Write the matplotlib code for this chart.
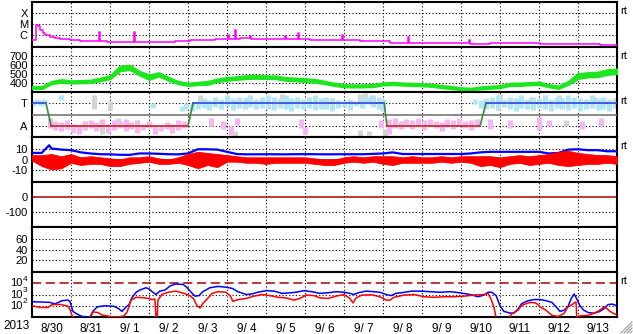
import numpy as np
import matplotlib
matplotlib.use('Agg')
import matplotlib.pyplot as plt
from matplotlib.lines import Line2D
from matplotlib.transforms import offset_copy

plt.rcParams['font.family'] = ['Liberation Sans', 'DejaVu Sans']

# time axis: days since 2013-08-30 00:00
DAY_LABELS = ['8/30', '8/31', '9/ 1', '9/ 2', '9/ 3', '9/ 4', '9/ 5', '9/ 6',
              '9/ 7', '9/ 8', '9/ 9', '9/10', '9/11', '9/12', '9/13']
YEAR = '2013'
FLUX_EXPONENTS = [4, 3, 2]

# GOES x-ray flux (W/m2)
XRAY = [(0.0, 3.5e-7), (0.08, 3.5e-7), (0.10, 8e-6), (0.15, 6e-6), (0.20, 2.9e-6),
        (0.28, 1.6e-6), (0.33, 1.0e-6), (0.46, 6.6e-7), (0.59, 5.3e-7), (0.72, 4.5e-7),
        (0.97, 3.5e-7), (1.23, 2.9e-7), (1.49, 2.9e-7), (1.69, 2.6e-7), (1.72, 1.9e-6),
        (1.74, 2.6e-7), (1.92, 2.3e-7), (2.26, 2.2e-7), (2.60, 2.1e-7), (2.62, 1.9e-6),
        (2.64, 2.1e-7), (3.03, 2.2e-7), (3.41, 2.2e-7), (3.67, 2.9e-7), (4.05, 3.2e-7),
        (4.44, 3.5e-7), (4.69, 4.0e-7), (4.95, 4.5e-7), (5.03, 1.0e-6), (5.05, 4.2e-7),
        (5.13, 4.0e-7), (5.21, 2.9e-6), (5.23, 4.5e-7), (5.33, 5.0e-7), (5.59, 8e-7),
        (5.61, 4.3e-7), (6.10, 4.3e-7), (6.49, 9e-7), (6.51, 4.0e-7), (6.62, 4.0e-7),
        (6.82, 1.5e-6), (6.85, 4.3e-7), (7.13, 3.5e-7), (7.64, 3.5e-7), (7.95, 1.0e-6),
        (7.97, 3.2e-7), (8.41, 2.9e-7), (8.92, 2.9e-7), (9.18, 2.0e-7), (9.64, 6.6e-7),
        (9.67, 1.9e-7), (9.95, 1.7e-7), (10.72, 1.7e-7), (11.21, 3.5e-7), (11.23, 1.6e-7),
        (11.74, 1.7e-7), (12.51, 1.7e-7), (13.03, 1.5e-7), (13.54, 1.5e-7), (14.05, 1.4e-7),
        (14.56, 1.2e-7), (15.0, 1.0e-7)]

# solar wind speed (km/s): time, low, high
SPEED = [(0.00, 340, 362), (0.25, 338, 360), (0.50, 392, 418), (0.75, 408, 438),
         (1.00, 400, 425), (1.25, 402, 428), (1.50, 405, 432), (1.75, 425, 455),
         (2.00, 448, 480), (2.25, 535, 585), (2.50, 550, 598), (2.75, 490, 530),
         (3.00, 440, 490), (3.25, 478, 515), (3.50, 430, 462), (3.75, 392, 418),
         (4.00, 372, 398), (4.25, 382, 408), (4.50, 385, 418), (4.75, 415, 445),
         (5.00, 430, 462), (5.25, 440, 470), (5.50, 450, 482), (5.75, 452, 485),
         (6.00, 450, 480), (6.25, 448, 478), (6.50, 430, 460), (6.75, 425, 455),
         (7.00, 415, 448), (7.25, 410, 440), (7.50, 392, 420), (7.75, 372, 398),
         (8.00, 358, 382), (8.25, 355, 380), (8.50, 356, 380), (8.75, 360, 385),
         (9.00, 378, 402), (9.25, 382, 408), (9.50, 376, 400), (9.75, 372, 398),
         (10.00, 368, 392), (10.25, 362, 388), (10.50, 348, 372), (10.75, 338, 362),
         (11.00, 325, 348), (11.25, 320, 342), (11.50, 334, 358), (11.75, 340, 365),
         (12.00, 348, 372), (12.25, 372, 398), (12.50, 372, 400), (12.75, 380, 405),
         (13.00, 382, 410), (13.25, 358, 382), (13.50, 340, 365), (13.75, 385, 418),
         (14.00, 450, 505), (14.25, 468, 515), (14.50, 470, 520), (14.75, 495, 548),
         (15.00, 505, 555)]

# IMF sector: +1 toward, -1 away
SECTOR = [(0.0, 1), (0.36, 1), (0.49, -1), (4.00, -1), (4.13, 1), (9.03, 1),
          (9.10, -1), (11.49, -1), (11.64, 1), (15.0, 1)]

# phi angle spread (time, low, high)
PHI_TOWARD = [(0.03, 0.8, 1.3), (0.12, 0.9, 1.4), (0.22, 0.75, 1.3), (0.32, 0.85, 1.35),
              (0.75, 1.3, 1.7), (3.10, 0.6, 1.0), (3.85, 0.3, 0.8), (3.95, 0.5, 1.0),
              (4.10, 0.3, 1.0), (4.25, 0.5, 1.2), (4.40, 0.6, 1.5), (4.55, 0.4, 1.3),
              (4.70, 0.7, 1.6), (4.85, 0.5, 1.4), (5.00, 0.8, 1.7), (5.15, 0.4, 1.5),
              (5.30, 0.6, 1.6), (5.45, 0.5, 1.5), (5.60, 0.7, 1.7), (5.75, 0.5, 1.4),
              (5.90, 0.6, 1.6), (6.05, 0.5, 1.7), (6.20, 0.4, 1.6), (6.35, 0.6, 1.5),
              (6.50, 0.5, 1.7), (6.65, 0.3, 1.5), (6.80, 0.6, 1.6), (6.95, 0.5, 1.4),
              (7.10, 0.6, 1.6), (7.25, 0.4, 1.7), (7.40, 0.5, 1.5), (7.55, 0.5, 1.6),
              (7.70, 0.3, 1.5), (7.85, 0.6, 1.3), (8.00, 0.7, 1.2), (8.15, 0.4, 1.4),
              (8.30, 0.8, 1.2), (8.45, 0.6, 1.5), (8.60, 0.9, 1.6), (8.75, 0.7, 1.7),
              (8.90, 0.5, 1.6), (9.00, 0.3, 1.4), (11.35, 0.9, 1.4), (11.50, 0.6, 1.3),
              (11.65, 0.5, 1.5), (11.80, 0.6, 1.6), (11.95, 0.4, 1.7), (12.10, 0.7, 1.4),
              (12.25, 0.5, 1.6), (12.40, 0.3, 1.5), (12.55, 0.6, 1.7), (12.70, 0.5, 1.4),
              (12.85, 0.4, 1.6), (13.00, 0.6, 1.5), (13.15, 0.5, 1.7), (13.30, 0.3, 1.4),
              (13.45, 0.6, 1.6), (13.60, 0.5, 1.5), (13.75, 0.4, 1.7), (13.90, 0.6, 1.6),
              (14.05, 0.3, 1.5), (14.20, 0.5, 1.4), (14.35, 0.6, 1.7), (14.50, 0.4, 1.5),
              (14.65, 0.5, 1.6), (14.80, 0.3, 1.4), (14.95, 0.6, 1.5)]
PHI_AWAY = [(0.45, -1.2, -0.3), (0.60, -1.4, -0.6), (0.75, -1.5, -0.7), (0.90, -1.3, -0.5),
            (1.05, -1.6, -0.8), (1.20, -1.7, -0.9), (1.35, -1.4, -0.6), (1.50, -1.2, -0.5),
            (1.65, -1.5, -0.7), (1.80, -1.3, -0.4), (1.95, -1.6, -0.8), (2.10, -1.4, -0.5),
            (2.25, -1.2, -0.6), (2.40, -1.5, -0.4), (2.55, -1.3, -0.7), (2.70, -1.6, -0.5),
            (2.85, -1.4, -0.8), (3.00, -1.2, -0.6), (3.15, -1.7, -1.0), (3.30, -1.5, -0.9),
            (3.45, -1.3, -0.7), (3.60, -1.6, -0.8), (3.75, -1.4, -0.5), (3.90, -1.2, -0.6),
            (4.60, -1.0, -0.3), (4.90, -1.3, -0.6), (5.10, -1.8, -1.0), (5.25, -0.9, -0.3),
            (6.90, -1.2, -0.4), (7.00, -1.7, -1.1), (8.95, -1.2, -0.5),
            (9.15, -1.7, -0.4), (9.30, -1.2, -0.3), (9.45, -1.3, -0.6), (9.60, -1.0, -0.4),
            (9.75, -1.3, -0.5), (9.90, -1.1, -0.3), (10.05, -1.4, -0.5), (10.20, -1.0, -0.4),
            (10.35, -1.2, -0.6), (10.50, -1.5, -0.7), (10.65, -1.1, -0.4), (10.80, -1.3, -0.5),
            (10.95, -1.0, -0.3), (11.10, -1.2, -0.6), (11.25, -1.4, -0.5), (11.40, -1.1, -0.4),
            (11.75, -1.3, -0.4), (12.25, -1.2, -0.5), (13.00, -1.4, -0.2), (13.25, -1.0, -0.5),
            (14.10, -1.3, -0.6), (14.60, -1.0, -0.3)]
PHI_OTHER = [(1.60, 0.5, 1.7), (1.80, -1.7, -1.2), (2.00, 0.4, 1.2), (2.20, -1.0, -0.3),
             (4.30, 1.2, 1.7), (5.50, 1.0, 1.6), (5.20, -1.9, -1.5), (6.40, 1.3, 1.8),
             (7.70, 0.9, 1.5), (8.40, 1.0, 1.8), (8.55, 1.3, 1.9), (8.70, 0.9, 1.7),
             (8.40, -1.9, -1.4), (8.65, -1.8, -1.5), (12.00, 1.1, 1.8), (12.80, 0.9, 1.6),
             (13.50, 1.2, 1.7), (14.40, 1.0, 1.6), (13.70, -1.0, -0.5), (9.05, -1.9, -1.3)]

# IMF Bt (nT)
BT = [(0.0, 6), (0.25, 6), (0.44, 13), (0.5, 10), (0.75, 9), (1.0, 8.5), (1.25, 6.5),
      (1.5, 5.5), (1.75, 4.8), (2.0, 4.7), (2.25, 4.3), (2.5, 4.2), (2.75, 5.5),
      (3.0, 5.5), (3.25, 5.2), (3.5, 4.8), (3.75, 4.7), (4.0, 5.5), (4.25, 9.3),
      (4.5, 9.3), (4.75, 9.0), (5.0, 7.0), (5.25, 5.0), (5.5, 4.7), (6.0, 4.8),
      (6.5, 4.7), (7.0, 4.9), (7.5, 4.7), (8.0, 4.8), (8.5, 4.8), (9.0, 5.5),
      (9.25, 6.5), (9.5, 5.0), (10.0, 5.0), (10.5, 5.0), (11.0, 5.0), (11.25, 5.5),
      (11.5, 6.5), (11.75, 7.0), (12.5, 7.0), (13.0, 7.0), (13.25, 5.5), (13.5, 6.0),
      (13.75, 9.0), (14.0, 9.3), (14.25, 8.5), (14.5, 8.5), (14.75, 7.5), (15.0, 7.5)]

# IMF Bz spread (time, low, high) nT
BZ = [(0.00, -1, 4), (0.25, -6, 4), (0.50, -9, 5), (0.75, -8, 3), (1.00, -3, 5),
      (1.25, -5, 2), (1.50, -4, 3), (1.75, -4, 2), (2.00, -6, 1), (2.25, -6, 0),
      (2.50, -4, 2), (2.75, -3, 2), (3.00, -2, 3), (3.25, -4, 1), (3.50, -4, 0),
      (3.75, -3, 2), (4.00, -5, 5), (4.25, -8, 7), (4.50, -5, 6), (4.75, -7, 5),
      (5.00, -2, 4), (5.25, -2, 3), (5.50, -3, 2), (5.75, -3, 2), (6.00, -4, 2),
      (6.25, -3, 2), (6.50, -3, 2), (6.75, -3, 2), (7.00, -3, 2), (7.25, -4, 1),
      (7.50, -5, 0), (7.75, -5, 0), (8.00, -3, 2), (8.25, -2, 3), (8.50, -3, 2),
      (8.75, -2, 3), (9.00, -4, 3), (9.25, -5, 3), (9.50, -3, 2), (9.75, -3, 3),
      (10.00, -3, 2), (10.25, -3, 2), (10.50, -2, 3), (10.75, -3, 2), (11.00, -2, 3),
      (11.25, -3, 3), (11.50, -6, 3), (11.75, -5, 3), (12.00, -7, 2), (12.25, -4, 3),
      (12.50, -3, 4), (12.75, -5, 3), (13.00, -4, 4), (13.25, -3, 5), (13.50, -5, 7),
      (13.75, -6, 8), (14.00, -5, 6), (14.25, -4, 5), (14.50, -4, 4), (14.75, -3, 4),
      (15.00, -4, 3)]

# particle flux, log10
ELECTRONS = [(0.0, 2.36), (0.46, 2.3), (0.59, 2.16), (0.77, 2.45), (0.92, 2.5), (0.97, 2.4),
             (1.05, 1.5), (1.15, 1.27), (1.28, 1.05), (1.49, 1.0), (1.56, 1.5), (1.67, 1.9),
             (1.87, 2.0), (2.10, 1.95), (2.21, 1.77), (2.31, 1.5), (2.41, 1.9), (2.49, 2.1),
             (2.56, 2.7), (2.67, 3.2), (2.77, 3.4), (2.92, 3.6), (3.00, 3.5), (3.08, 3.25),
             (3.18, 3.0), (3.28, 3.3), (3.41, 3.4), (3.54, 3.75), (3.67, 3.93), (3.87, 3.9),
             (3.97, 3.64), (4.08, 3.2), (4.18, 2.85), (4.28, 2.9), (4.38, 3.25), (4.56, 3.6),
             (4.77, 3.72), (4.97, 3.65), (5.13, 3.55), (5.28, 3.25), (5.49, 3.0), (5.64, 3.05),
             (5.79, 3.2), (6.00, 3.34), (6.21, 3.3), (6.41, 3.1), (6.62, 3.15), (6.77, 3.2),
             (6.97, 3.34), (7.18, 3.25), (7.38, 3.1), (7.59, 3.15), (7.79, 3.25), (8.00, 3.2),
             (8.15, 3.1), (8.26, 3.0), (8.36, 3.15), (8.56, 3.3), (8.77, 3.25), (8.92, 3.2),
             (9.08, 3.0), (9.21, 2.9), (9.33, 3.1), (9.56, 3.2), (9.74, 3.3), (9.95, 3.3),
             (10.21, 3.25), (10.46, 3.2), (10.72, 3.25), (10.97, 3.15), (11.23, 3.0),
             (11.44, 2.8), (11.59, 2.95), (11.69, 3.2), (11.79, 3.2), (11.90, 2.9),
             (12.00, 2.0), (12.10, 1.5), (12.26, 1.35), (12.36, 1.35), (12.46, 1.7),
             (12.56, 2.2), (12.72, 2.45), (12.87, 2.55), (13.03, 2.55), (13.18, 2.45),
             (13.33, 2.3), (13.44, 1.9), (13.54, 1.5), (13.64, 1.6), (13.74, 1.9),
             (13.82, 2.6), (13.90, 3.05), (13.97, 2.6), (14.05, 2.0), (14.15, 1.6),
             (14.26, 1.4), (14.41, 1.33), (14.56, 1.5), (14.67, 1.75), (14.77, 2.1),
             (14.87, 2.15), (15.0, 2.0)]
PROTONS = [(0.0, 2.0), (0.21, 1.85), (0.41, 1.85), (0.51, 2.1), (0.72, 2.12), (0.82, 2.05),
           (0.92, 1.96), (0.97, 1.7), (1.03, 1.1), (1.10, 0.9), (1.49, 0.9), (1.56, 1.45),
           (1.69, 1.4), (1.79, 1.18), (2.00, 1.05), (2.21, 1.0), (2.36, 1.1), (2.44, 1.45),
           (2.54, 2.5), (2.67, 2.75), (2.82, 2.72), (2.97, 2.66), (3.08, 2.55), (3.15, 2.6),
           (3.18, 0.9), (3.21, 0.9), (3.23, 2.5), (3.33, 3.0), (3.49, 3.2), (3.69, 3.3),
           (3.90, 3.1), (4.05, 2.9), (4.15, 2.6), (4.23, 2.0), (4.31, 1.8), (4.38, 2.2),
           (4.49, 2.6), (4.62, 3.1), (4.77, 3.25), (4.97, 3.2), (5.08, 2.9), (5.15, 2.4),
           (5.28, 2.55), (5.49, 2.65), (5.69, 2.85), (5.90, 3.0), (6.10, 2.9), (6.31, 2.75),
           (6.51, 2.7), (6.72, 2.5), (6.87, 2.65), (7.03, 2.95), (7.23, 2.9), (7.38, 2.7),
           (7.59, 2.65), (7.79, 2.85), (8.00, 3.0), (8.15, 2.65), (8.23, 2.25), (8.31, 2.7),
           (8.46, 2.95), (8.72, 2.97), (8.92, 2.8), (9.08, 2.5), (9.18, 2.5), (9.28, 2.75),
           (9.54, 2.95), (9.79, 3.0), (10.05, 2.8), (10.31, 2.75), (10.56, 2.8), (10.82, 2.8),
           (11.08, 2.85), (11.33, 2.95), (11.59, 3.0), (11.69, 3.1), (11.77, 2.6),
           (11.85, 1.8), (11.90, 0.9), (12.21, 0.9), (12.31, 1.3), (12.46, 1.6),
           (12.56, 2.05), (12.77, 2.3), (12.92, 2.25), (13.03, 1.9), (13.18, 1.6),
           (13.33, 1.15), (13.49, 1.05), (13.64, 1.3), (13.74, 1.9), (13.85, 2.1),
           (13.92, 2.3), (13.95, 2.3), (13.97, 0.9), (14.03, 1.1), (14.26, 1.15),
           (14.41, 1.33), (14.56, 1.6), (14.67, 1.9), (14.74, 1.75), (14.82, 1.5),
           (14.92, 1.3), (15.0, 1.2)]

W, H = 633, 334
LEFT, RIGHT, TOP, PH = 32, 617, 2, 45
DOT = (0, (1, 2))
DARKRED = '#b00000'
FS = 8

fig = plt.figure(figsize=(W / 100, H / 100), dpi=100)


def panel(i):
    top = TOP + PH * i
    ax = fig.add_axes([LEFT / W, 1 - (top + PH) / H, (RIGHT - LEFT) / W, PH / H])
    ax.set_xlim(0, 15)
    ax.set_xticks([])
    for s in ax.spines.values():
        s.set_linewidth(1.5)
    ax.tick_params(length=0, labelsize=FS, pad=3)
    for d in range(1, 15):
        ax.axvline(d, color='k', lw=0.8, ls=DOT, zorder=1)
    return ax


def hdots(ax, levels):
    for v in levels:
        ax.axhline(v, color='k', lw=0.8, ls=DOT, zorder=1)


def cols(rows):
    return [np.array(c) for c in zip(*rows)]


# 1: x-ray
ax = panel(0)
ax.set_yscale('log')
ax.set_ylim(10 ** -7.09, 1e-3)
ax.set_yticks([1e-4, 1e-5, 1e-6], ['X', 'M', 'C'])
ax.minorticks_off()
hdots(ax, [1e-4, 1e-5, 1e-6])
t, f = cols(XRAY)
ax.plot(t, f, color='#ff00ff', lw=1.1, drawstyle='steps-post', zorder=3)

# 2: solar wind speed
ax = panel(1)
ax.set_ylim(300, 800)
ax.set_yticks([700, 600, 500, 400], ['700', '600', '500', '400'])
hdots(ax, [700, 600, 500, 400])
t, lo, hi = cols(SPEED)
ax.fill_between(t, lo, hi, color='#1ee61e', lw=1.5, edgecolor='#1ee61e', zorder=3)

# 3: sector / phi
ax = panel(2)
ax.set_ylim(-2, 2)
ax.set_yticks([1, -1], ['T', 'A'])
hdots(ax, [1, -1])
for rows, c in [(PHI_OTHER, '#d4d4d4'), (PHI_TOWARD, '#b0e6f6'), (PHI_AWAY, '#f6b6f2')]:
    t, lo, hi = cols(rows)
    ax.vlines(t, lo, hi, color=c, lw=3.6, zorder=2)
ax.axhline(0, color='#777777', lw=1.2, zorder=3)
t, s = cols(SECTOR)
for k in range(len(t) - 1):
    if s[k] == s[k + 1]:
        c = '#3344dd' if s[k] > 0 else '#cc2222'
    else:
        c = '#3a8a3a'
    ax.plot(t[k:k + 2], s[k:k + 2], color=c, lw=1.2, zorder=4)

# 4: Bt / Bz
ax = panel(3)
ax.set_ylim(-20.5, 20.5)
ax.set_yticks([10, 0, -10], ['10', '0', '-10'])
hdots(ax, [10, -10])
ax.axhline(0, color=DARKRED, lw=1.1, zorder=2)
t, b = cols(BT)
ax.plot(t, b, color='#0000ff', lw=1.6, zorder=3)
t, lo, hi = cols(BZ)
ax.fill_between(t, lo, hi, color='#ff0000', lw=0.6, edgecolor='#ff0000', zorder=4)

# 5: empty, zero line
ax = panel(4)
ax.set_ylim(-197, 97)
ax.set_yticks([0, -100], ['0', '-100'])
hdots(ax, [-100])
ax.axhline(0, color=DARKRED, lw=1.1, zorder=2)

# 6: empty
ax = panel(5)
ax.set_ylim(-2.3, 82.9)
ax.set_yticks([60, 40, 20], ['60', '40', '20'])
hdots(ax, [60, 40, 20])

# 7: particles
ax = panel(6)
ax.set_yscale('log')
ax.set_ylim(10, 1e5)
ax.set_yticks([])
ax.minorticks_off()
hdots(ax, [1e3, 1e2])
ax.axhline(1e4, color=DARKRED, lw=1.1, dashes=(6, 3), zorder=2)
base_tr = offset_copy(ax.get_yaxis_transform(), fig=fig, x=-10, y=0, units='dots')
exp_tr = offset_copy(ax.get_yaxis_transform(), fig=fig, x=-9, y=4, units='dots')
for e in FLUX_EXPONENTS:
    ax.text(0, 10.0 ** e, '10', transform=base_tr, ha='right', va='center', fontsize=FS)
    ax.text(0, 10.0 ** e, str(e), transform=exp_tr, ha='left', va='center', fontsize=6)
t, v = cols(ELECTRONS)
ax.plot(t, 10 ** v, color='#0000ff', lw=1.1, zorder=3)
t, v = cols(PROTONS)
ax.plot(t, 10 ** v, color='#ff0000', lw=1.1, zorder=4)
ax.set_xticks(np.arange(15) + 0.5, DAY_LABELS)
ax.tick_params(axis='x', length=0, pad=4, labelsize=8.5)

fig.text(17 / W, 1 - 326 / H, YEAR, ha='center', va='center', fontsize=8.5)
for y in [11, 56, 101, 146, 281]:
    fig.text(620 / W, 1 - y / H, 'rt', ha='left', va='center', fontsize=8)

# resize grip
for k in range(4):
    fig.add_artist(Line2D([(621 + 3 * k) / W, 632 / W],
                          [1 - 333 / H, 1 - (322 + 3 * k) / H],
                          color='#9a9a9a', lw=0.8))

fig.savefig('out.png', dpi=100)
